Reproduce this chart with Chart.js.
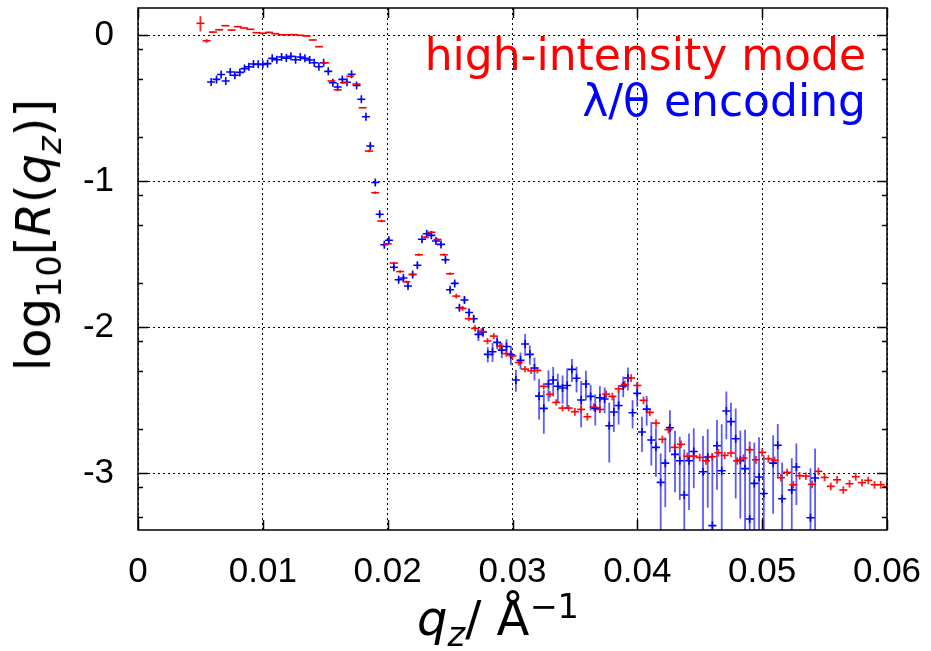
<!DOCTYPE html>
<html>
<head>
<meta charset="utf-8">
<title>Reflectivity</title>
<script src="https://cdn.jsdelivr.net/npm/chart.js@4/dist/chart.umd.min.js"></script>
<style>
  html, body { margin: 0; padding: 0; background: #fff; }
  #wrap { position: relative; width: 931px; height: 651px; }
  #chart { position: absolute; left: 0; top: 0; }
  .txt { position: absolute; font-family: "DejaVu Sans", sans-serif; white-space: nowrap; line-height: 48px; }
  .leg { font-size: 44px; line-height: 44px; right: 65px; }
  sub, sup { font-size: 0.7em; line-height: 0; }
</style>
</head>
<body>
<div id="wrap">
  <canvas id="chart" width="931" height="651"></canvas>
  <div class="txt leg" style="top:33px; color:#ff0000;">high-intensity mode</div>
  <div class="txt leg" style="top:79px; color:#0000ff;">λ/θ encoding</div>
  <div class="txt" style="font-size:48px; left:33px; top:235px; transform:translate(-50%,-50%) rotate(-90deg);">log<sub>10</sub>[<i>R</i>(<i>q</i><sub><i>z</i></sub>)]</div>
  <div class="txt" style="font-size:48px; left:498px; top:594px; transform:translateX(-50%);"><i>q</i><sub><i>z</i></sub>/ Å<sup>−1</sup></div>
</div>
<script>
// axis ticks
const xTicks = [0, 0.01, 0.02, 0.03, 0.04, 0.05, 0.06];
const xTickLabels = ['0', '0.01', '0.02', '0.03', '0.04', '0.05', '0.06'];
const yTicks = [0, -1, -2, -3];
const yTickLabels = ['0', '-1', '-2', '-3'];
// log minor ticks (2, 5, 8 x 10^k)
const yMinorTicks = [-0.097, -0.301, -0.699, -1.097, -1.301, -1.699, -2.097, -2.301, -2.699, -3.097, -3.301];

// high-intensity mode
const redQ = [
  0.0050, 0.0055, 0.0060, 0.0065, 0.0070, 0.0075, 0.0080, 0.0085, 0.0090, 0.0095,
  0.0100, 0.0105, 0.0110, 0.0115, 0.0120, 0.0125, 0.0130, 0.0135, 0.0140, 0.0145,
  0.0150, 0.0155, 0.0160, 0.0165, 0.0170, 0.0175, 0.0180, 0.0185, 0.0190, 0.0195,
  0.0200, 0.0205, 0.0210, 0.0215, 0.0220, 0.0225, 0.0230, 0.0235, 0.0240, 0.0245,
  0.0250, 0.0255, 0.0260, 0.0265, 0.0270, 0.0275, 0.0280, 0.0285, 0.0290, 0.0295,
  0.0300, 0.0305, 0.0310, 0.0315, 0.0320, 0.0325, 0.0330, 0.0335, 0.0340, 0.0345,
  0.0350, 0.0355, 0.0360, 0.0365, 0.0370, 0.0375, 0.0380, 0.0385, 0.0390, 0.0395,
  0.0400, 0.0405, 0.0410, 0.0415, 0.0420, 0.0425, 0.0430, 0.0435, 0.0440, 0.0445,
  0.0450, 0.0455, 0.0460, 0.0465, 0.0470, 0.0475, 0.0480, 0.0485, 0.0490, 0.0495,
  0.0500, 0.0505, 0.0510, 0.0515, 0.0520, 0.0525, 0.0530, 0.0535, 0.0540, 0.0545,
  0.0550, 0.0555, 0.0560, 0.0565, 0.0570, 0.0575, 0.0580, 0.0585, 0.0590, 0.0595,
  0.0600
];
const redLogR = [
  0.080, -0.040, 0.020, 0.036, 0.064, 0.034, 0.057, 0.048, 0.039, 0.016,
  0.012, 0.018, 0.009, 0.002, 0.002, 0.002, -0.002, -0.007, -0.034, -0.080,
  -0.190, -0.315, -0.375, -0.327, -0.283, -0.336, -0.498, -0.795, -1.080, -1.274,
  -1.430, -1.562, -1.620, -1.690, -1.640, -1.505, -1.386, -1.351, -1.400, -1.505,
  -1.635, -1.788, -1.872, -1.943, -2.009, -2.030, -2.096, -2.062, -2.130, -2.182,
  -2.198, -2.243, -2.288, -2.300, -2.297, -2.406, -2.461, -2.516, -2.555, -2.555,
  -2.580, -2.564, -2.614, -2.548, -2.564, -2.459, -2.475, -2.423, -2.393, -2.349,
  -2.400, -2.502, -2.584, -2.658, -2.769, -2.703, -2.824, -2.803, -2.885, -2.884,
  -2.893, -2.916, -2.888, -2.861, -2.879, -2.863, -2.916, -2.897, -2.840, -2.909,
  -2.858, -2.902, -2.913, -3.032, -2.995, -3.080, -3.018, -3.021, -3.077, -2.988,
  -3.030, -3.091, -3.046, -3.116, -3.073, -3.025, -3.066, -3.050, -3.080, -3.080,
  -3.094
];
// relative errors dR/R
const redErr = [
  0.12, 0.03, 0.01, 0.01, 0.01, 0.01, 0.01, 0.01, 0.01, 0.01,
  0.01, 0.01, 0.01, 0.01, 0.01, 0.01, 0.01, 0.01, 0.01, 0.01,
  0.01, 0.01, 0.01, 0.01, 0.01, 0.01, 0.01, 0.02, 0.02, 0.02,
  0.02, 0.02, 0.02, 0.02, 0.02, 0.02, 0.02, 0.02, 0.02, 0.02,
  0.02, 0.04, 0.04, 0.04, 0.05, 0.05, 0.05, 0.05, 0.05, 0.05,
  0.05, 0.05, 0.05, 0.05, 0.05, 0.05, 0.05, 0.05, 0.05, 0.05,
  0.06, 0.06, 0.06, 0.06, 0.06, 0.06, 0.06, 0.06, 0.06, 0.06,
  0.06, 0.06, 0.06, 0.06, 0.06, 0.06, 0.06, 0.06, 0.06, 0.06,
  0.06, 0.06, 0.06, 0.06, 0.06, 0.06, 0.06, 0.06, 0.06, 0.06,
  0.06, 0.06, 0.06, 0.06, 0.06, 0.06, 0.06, 0.06, 0.06, 0.06,
  0.06, 0.06, 0.06, 0.06, 0.06, 0.06, 0.06, 0.06, 0.06, 0.06,
  0.06
];

// lambda/theta encoding
const blueQ = [
  0.00586, 0.00629, 0.00666, 0.00703, 0.00739, 0.00776, 0.00816, 0.00853, 0.00888, 0.00925,
  0.00963, 0.01000, 0.01038, 0.01075, 0.01112, 0.01150, 0.01188, 0.01225, 0.01262, 0.01300,
  0.01337, 0.01375, 0.01412, 0.01449, 0.01487, 0.01524, 0.01561, 0.01599, 0.01637, 0.01674,
  0.01711, 0.01751, 0.01789, 0.01826, 0.01861, 0.01901, 0.01936, 0.01973, 0.02010, 0.02050,
  0.02088, 0.02126, 0.02163, 0.02200, 0.02238, 0.02275, 0.02313, 0.02350, 0.02387, 0.02427,
  0.02463, 0.02500, 0.02537, 0.02575, 0.02615, 0.02652, 0.02689, 0.02727, 0.02764, 0.02802,
  0.02840, 0.02877, 0.02914, 0.02952, 0.02987, 0.03027, 0.03064, 0.03101, 0.03139, 0.03176,
  0.03213, 0.03251, 0.03288, 0.03326, 0.03363, 0.03401, 0.03438, 0.03476, 0.03513, 0.03550,
  0.03588, 0.03626, 0.03663, 0.03700, 0.03738, 0.03775, 0.03812, 0.03850, 0.03887, 0.03925,
  0.03962, 0.03999, 0.04037, 0.04075, 0.04112, 0.04149, 0.04187, 0.04224, 0.04261, 0.04302,
  0.04340, 0.04376, 0.04414, 0.04452, 0.04526, 0.04564, 0.04601, 0.04638, 0.04676, 0.04713,
  0.04750, 0.04788, 0.04825, 0.04863, 0.04900, 0.04937, 0.04975, 0.05013, 0.05088, 0.05125,
  0.05160, 0.05237, 0.05274, 0.05387, 0.05424
];
const blueLogR = [
  -0.322, -0.304, -0.270, -0.315, -0.253, -0.276, -0.256, -0.230, -0.217, -0.199,
  -0.201, -0.201, -0.196, -0.160, -0.169, -0.151, -0.158, -0.146, -0.169, -0.151,
  -0.160, -0.171, -0.190, -0.217, -0.190, -0.249, -0.327, -0.356, -0.304, -0.324,
  -0.269, -0.345, -0.440, -0.560, -0.760, -1.010, -1.228, -1.436, -1.406, -1.591,
  -1.676, -1.664, -1.719, -1.640, -1.577, -1.399, -1.361, -1.372, -1.411, -1.434,
  -1.539, -1.745, -1.701, -1.868, -1.815, -1.900, -1.943, -2.050, -2.034, -2.187,
  -2.169, -2.105, -2.158, -2.133, -2.190, -2.363, -2.228, -2.116, -2.187, -2.281,
  -2.473, -2.557, -2.390, -2.363, -2.406, -2.418, -2.400, -2.290, -2.351, -2.500,
  -2.390, -2.475, -2.555, -2.484, -2.493, -2.676, -2.582, -2.537, -2.404, -2.349,
  -2.587, -2.454, -2.719, -2.562, -2.774, -2.824, -3.064, -2.932, -2.690, -2.872,
  -2.916, -3.150, -2.916, -2.852, -2.991, -2.890, -3.360, -2.813, -2.984, -2.575,
  -2.648, -2.765, -2.913, -2.970, -3.315, -3.071, -3.027, -3.140, -2.932, -2.810,
  -3.176, -3.116, -2.959, -3.306, -3.034
];
const blueErr = [
  0.015, 0.015, 0.015, 0.015, 0.015, 0.015, 0.015, 0.015, 0.015, 0.015,
  0.015, 0.015, 0.015, 0.015, 0.015, 0.015, 0.015, 0.015, 0.015, 0.015,
  0.015, 0.015, 0.015, 0.015, 0.015, 0.015, 0.015, 0.015, 0.015, 0.015,
  0.015, 0.015, 0.015, 0.015, 0.03, 0.03, 0.03, 0.03, 0.03, 0.03,
  0.03, 0.03, 0.03, 0.03, 0.03, 0.03, 0.03, 0.03, 0.03, 0.03,
  0.03, 0.03, 0.03, 0.04, 0.04, 0.05, 0.06, 0.10, 0.08, 0.12,
  0.15, 0.10, 0.12, 0.12, 0.15, 0.17, 0.13, 0.17, 0.15, 0.18,
  0.31, 0.33, 0.24, 0.23, 0.22, 0.22, 0.31, 0.18, 0.20, 0.35,
  0.23, 0.20, 0.24, 0.20, 0.20, 0.44, 0.27, 0.26, 0.16, 0.18,
  0.22, 0.19, 0.27, 0.23, 0.33, 0.37, 0.58, 0.50, 0.32, 0.45,
  0.46, 1.05, 0.54, 0.44, 0.76, 0.55, 2.10, 0.50, 1.08, 0.36,
  0.35, 0.61, 0.60, 0.85, 2.40, 0.90, 0.87, 0.83, 0.55, 0.40,
  0.77, 0.65, 0.45, 1.18, 0.59
];

function toPoints(qs, ys, es) {
  return qs.map((q, i) => ({ x: q, y: ys[i], e: es[i] }));
}

// vertical error bars, drawn through the scales
const errorBars = {
  id: 'errorBars',
  beforeDatasetsDraw(chart) {
    const { ctx, chartArea, scales } = chart;
    const x = scales.x, y = scales.y;
    ctx.save();
    ctx.beginPath();
    ctx.rect(chartArea.left, chartArea.top, chartArea.right - chartArea.left, chartArea.bottom - chartArea.top);
    ctx.clip();
    chart.data.datasets.slice().reverse().forEach(ds => {
      ctx.strokeStyle = ds.errColor;
      ctx.lineWidth = 1.8;
      ds.data.forEach(p => {
        const px = x.getPixelForValue(p.x);
        const top = y.getPixelForValue(p.y + Math.log10(1 + p.e));
        const bot = p.e >= 1 ? chartArea.bottom + 5 : y.getPixelForValue(p.y + Math.log10(1 - p.e));
        ctx.beginPath();
        ctx.moveTo(px, top);
        ctx.lineTo(px, bot);
        ctx.stroke();
      });
    });
    ctx.restore();
  }
};

// gnuplot style frame with inward ticks
const frame = {
  id: 'frame',
  afterDraw(chart) {
    const { ctx, chartArea: a, scales } = chart;
    ctx.save();
    ctx.strokeStyle = '#000';
    ctx.lineWidth = 1.5;
    ctx.setLineDash([]);
    ctx.strokeRect(a.left, a.top, a.right - a.left, a.bottom - a.top);
    ctx.beginPath();
    xTicks.forEach(v => {
      const px = Math.round(scales.x.getPixelForValue(v)) + 0.5;
      ctx.moveTo(px, a.bottom); ctx.lineTo(px, a.bottom - 10);
      ctx.moveTo(px, a.top); ctx.lineTo(px, a.top + 10);
    });
    yTicks.forEach(v => {
      const py = Math.round(scales.y.getPixelForValue(v)) + 0.5;
      ctx.moveTo(a.left, py); ctx.lineTo(a.left + 10, py);
      ctx.moveTo(a.right, py); ctx.lineTo(a.right - 10, py);
    });
    yMinorTicks.forEach(v => {
      const py = Math.round(scales.y.getPixelForValue(v)) + 0.5;
      ctx.moveTo(a.left, py); ctx.lineTo(a.left + 5, py);
      ctx.moveTo(a.right, py); ctx.lineTo(a.right - 5, py);
    });
    ctx.stroke();
    ctx.restore();
  }
};

const ctx = document.getElementById('chart').getContext('2d');
const chart = new Chart(ctx, {
  type: 'scatter',
  data: {
    datasets: [{
      label: 'high-intensity mode',
      data: toPoints(redQ, redLogR, redErr),
      borderColor: '#ff0000',
      backgroundColor: '#ff0000',
      errColor: 'rgba(255,0,0,0.85)',
      pointStyle: 'line',
      pointRadius: 4,
      borderWidth: 1.6,
      clip: 0
    }, {
      label: 'λ/θ encoding',
      data: toPoints(blueQ, blueLogR, blueErr),
      borderColor: '#0000ff',
      backgroundColor: '#0000ff',
      errColor: 'rgba(20,20,255,0.7)',
      pointStyle: 'cross',
      pointRadius: 4,
      borderWidth: 1.6,
      clip: 0
    }]
  },
  options: {
    responsive: false,
    animation: false,
    devicePixelRatio: 1,
    layout: { padding: { top: 8, right: 44, left: 0, bottom: 0 } },
    plugins: {
      legend: { display: false },
      tooltip: { enabled: false }
    },
    scales: {
      x: {
        type: 'linear',
        min: 0,
        max: 0.06,
        afterFit: s => { s.height = 121; s.paddingLeft = 0; s.paddingRight = 0; },
        afterBuildTicks: s => { s.ticks = xTicks.map(v => ({ value: v })); },
        ticks: {
          color: '#000',
          padding: 21,
          maxRotation: 0,
          font: { family: 'Liberation Sans', size: 35 },
          callback: (v, i) => xTickLabels[i]
        },
        grid: { color: '#000', lineWidth: 1, drawTicks: false },
        border: { display: false, dash: [2, 3] }
      },
      y: {
        type: 'linear',
        min: -3.39,
        max: 0.185,
        afterFit: s => { s.width = 138; s.paddingTop = 0; s.paddingBottom = 0; },
        afterBuildTicks: s => { s.ticks = yTicks.map(v => ({ value: v })); },
        ticks: {
          color: '#000',
          padding: 24,
          font: { family: 'Liberation Sans', size: 35 },
          callback: (v, i) => yTickLabels[i]
        },
        grid: { color: '#000', lineWidth: 1, drawTicks: false },
        border: { display: false, dash: [2, 3] }
      }
    }
  },
  plugins: [errorBars, frame]
});
</script>
</body>
</html>
